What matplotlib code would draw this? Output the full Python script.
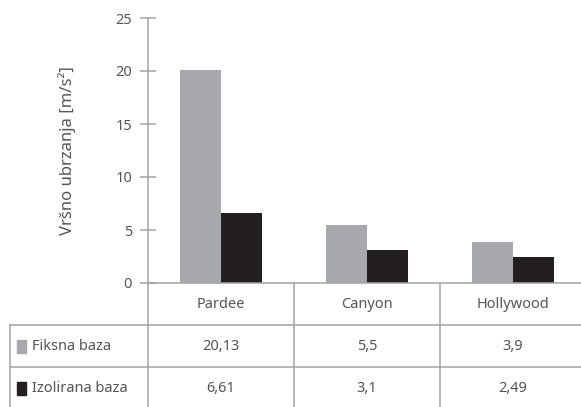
import matplotlib
matplotlib.use('Agg')
import matplotlib.pyplot as plt
from matplotlib.patches import Rectangle

# data
categories = ['Pardee', 'Canyon', 'Hollywood']
series_names = ['Fiksna baza', 'Izolirana baza']
fiksna = [20.13, 5.5, 3.9]
izolirana = [6.61, 3.1, 2.49]
colors = ['#a7a9ac', '#231f20']
yticks = [0, 5, 10, 15, 20, 25]

W, H = 581, 407
line_c = '#a3a3a3'
text_c = '#555555'
plt.rcParams['font.family'] = ['Noto Sans', 'DejaVu Sans']

fig = plt.figure(figsize=(W / 100, H / 100), dpi=100)

# chart area: spine at x=148px, zero at y=283px, top at y=18px
cat_px = 146.0
x0, y0, ytop = 148, 283, 18
ax = fig.add_axes([x0 / W, 1 - y0 / H, (W - x0) / W, (y0 - ytop) / H])
ax.set_xlim(0, (W - x0) / cat_px)
ax.set_ylim(0, 25)

bw = 0.28
for i in range(len(categories)):
    ax.bar(i + 0.5 - bw / 2, fiksna[i], bw, color=colors[0], zorder=2)
    ax.bar(i + 0.5 + bw / 2, izolirana[i], bw, color=colors[1], zorder=2)

for s in ['top', 'right']:
    ax.spines[s].set_visible(False)
ax.spines['left'].set_color(line_c)
ax.spines['bottom'].set_color(line_c)
ax.spines['left'].set_linewidth(1.1)
ax.spines['bottom'].set_linewidth(1.1)
ax.set_xticks([])
ax.set_yticks(yticks)
ax.set_yticklabels([str(t) for t in yticks])
ax.tick_params(axis='y', direction='inout', length=11, width=1.1, color=line_c,
               labelcolor=text_c, labelsize=10.5, pad=6)
ax.set_ylabel('Vršno ubrzanja [m/s²]', fontsize=12, color=text_c, labelpad=28)

# table area below the chart
row_px = 42.0
xl = 10
axt = fig.add_axes([xl / W, 0, (W - xl) / W, (H - y0) / H])
axt.set_xlim(-(x0 - xl) / cat_px, (W - x0) / cat_px)
axt.set_ylim((H - y0) / row_px, 0)
axt.axis('off')
left = -(x0 - xl) / cat_px
right = (W - x0) / cat_px
bottom = (H - y0) / row_px

kw = dict(color=line_c, lw=1.1, clip_on=False)
axt.plot([0, 0], [0, bottom], **kw)
for i in range(1, len(categories)):
    axt.plot([i, i], [0, bottom], **kw)
axt.plot([left, left], [1, bottom], **kw)
for r in range(1, len(series_names) + 1):
    axt.plot([left, right], [r, r], **kw)

tf = dict(fontsize=10.5, color=text_c, ha='center', va='center')
for i, c in enumerate(categories):
    axt.text(i + 0.5, 0.5, c, **tf)

rows = [fiksna, izolirana]
for r, (name, vals) in enumerate(zip(series_names, rows)):
    yc = r + 1.5
    axt.add_patch(Rectangle((left + 7 / cat_px, yc - 6.5 / row_px), 9 / cat_px, 13 / row_px,
                            color=colors[r], clip_on=False))
    axt.text(left + 22 / cat_px, yc, name, fontsize=10.5, color=text_c, ha='left', va='center')
    for i, v in enumerate(vals):
        axt.text(i + 0.5, yc, f'{v:g}'.replace('.', ','), **tf)

fig.savefig('out.png', dpi=100)
